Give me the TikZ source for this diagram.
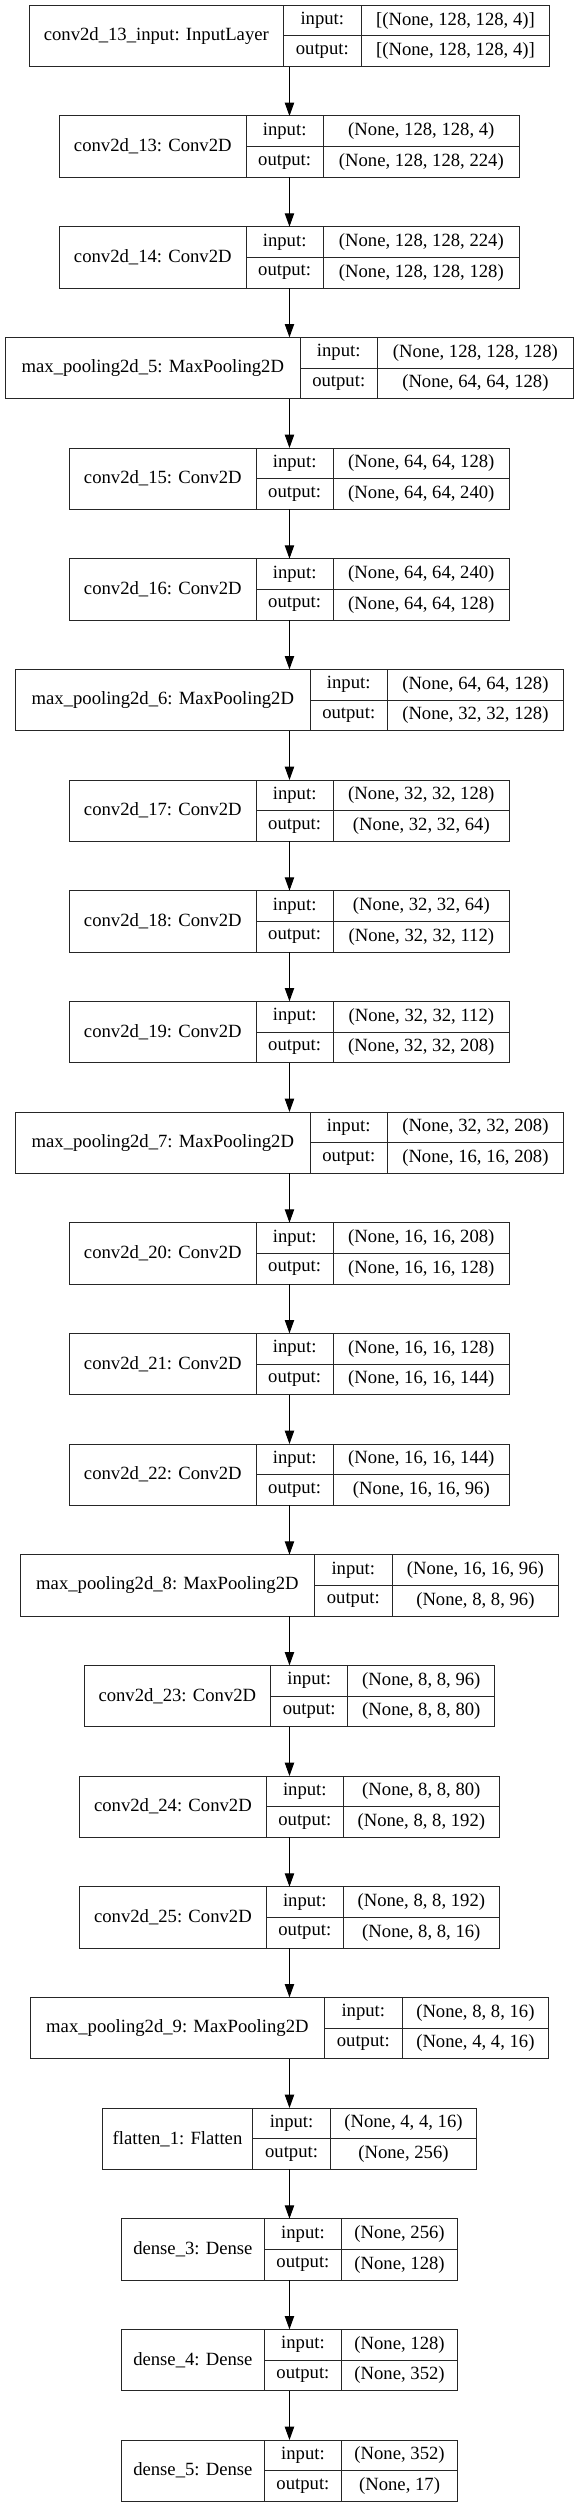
\documentclass[tikz,border=0pt]{standalone}
\usepackage{fontspec}
\setmainfont{Liberation Serif}
\usepackage{tikz}
\usetikzlibrary{arrows.meta, positioning}
\tikzset{
    layerbox/.style={rectangle, minimum height=46pt, inner sep=0pt, outer sep=0pt},
    namecell/.style={rectangle, draw=black!85, line width=0.75pt, minimum height=46pt,
                     inner sep=0pt, outer sep=0pt, font=\fontsize{14}{16}\selectfont},
    iocell/.style={rectangle, draw=black!85, line width=0.75pt, minimum width=58pt,
                   minimum height=23pt, inner sep=0pt, outer sep=0pt,
                   font=\fontsize{14}{16}\selectfont},
    shapecell/.style={rectangle, draw=black!85, line width=0.75pt, minimum height=23pt,
                      inner sep=0pt, outer sep=0pt, font=\fontsize{14}{16}\selectfont},
    arr/.style={line width=0.75pt, -{Triangle[length=10pt, width=7pt]}},
}
% #1 node, #2 name width, #3 shape width, #4 layer, #5 input, #6 output, #7 placement
\newcommand{\kerasbox}[7]{%
    \node[layerbox, minimum width=#2+58pt+#3, #7] (#1) {};
    \node[namecell, minimum width=#2, anchor=north west] (#1-name) at (#1.north west) {#4};
    \node[iocell, anchor=north west] (#1-in) at (#1-name.north east) {input:};
    \node[iocell, anchor=north west] (#1-out) at (#1-in.south west) {output:};
    \node[shapecell, minimum width=#3, anchor=north west] (#1-ishape) at (#1-in.north east) {#5};
    \node[shapecell, minimum width=#3, anchor=north west] (#1-oshape) at (#1-out.north east) {#6};
}

\begin{document}
\begin{tikzpicture}[node distance=37pt]
    \useasboundingbox (0,0) rectangle (434.25pt,-1881pt);

    \kerasbox{input}{191pt}{141.7pt}{conv2d\_13\_input: InputLayer}{[(None, 128, 128, 4)]}{[(None, 128, 128, 4)]}{anchor=north, at={(217.1pt,-4pt)}}
    \kerasbox{conv13}{139.8pt}{147pt}{conv2d\_13: Conv2D}{(None, 128, 128, 4)}{(None, 128, 128, 224)}{below=of input}
    \kerasbox{conv14}{139.8pt}{147pt}{conv2d\_14: Conv2D}{(None, 128, 128, 224)}{(None, 128, 128, 128)}{below=of conv13}
    \kerasbox{pool5}{220.9pt}{147pt}{max\_pooling2d\_5: MaxPooling2D}{(None, 128, 128, 128)}{(None, 64, 64, 128)}{below=of conv14}
    \kerasbox{conv15}{139.8pt}{132pt}{conv2d\_15: Conv2D}{(None, 64, 64, 128)}{(None, 64, 64, 240)}{below=of pool5}
    \kerasbox{conv16}{139.8pt}{132pt}{conv2d\_16: Conv2D}{(None, 64, 64, 240)}{(None, 64, 64, 128)}{below=of conv15}
    \kerasbox{pool6}{220.9pt}{132pt}{max\_pooling2d\_6: MaxPooling2D}{(None, 64, 64, 128)}{(None, 32, 32, 128)}{below=of conv16}
    \kerasbox{conv17}{139.8pt}{132pt}{conv2d\_17: Conv2D}{(None, 32, 32, 128)}{(None, 32, 32, 64)}{below=of pool6}
    \kerasbox{conv18}{139.8pt}{132pt}{conv2d\_18: Conv2D}{(None, 32, 32, 64)}{(None, 32, 32, 112)}{below=of conv17}
    \kerasbox{conv19}{139.8pt}{132pt}{conv2d\_19: Conv2D}{(None, 32, 32, 112)}{(None, 32, 32, 208)}{below=of conv18}
    \kerasbox{pool7}{220.9pt}{132pt}{max\_pooling2d\_7: MaxPooling2D}{(None, 32, 32, 208)}{(None, 16, 16, 208)}{below=of conv19}
    \kerasbox{conv20}{139.8pt}{132pt}{conv2d\_20: Conv2D}{(None, 16, 16, 208)}{(None, 16, 16, 128)}{below=of pool7}
    \kerasbox{conv21}{139.8pt}{132pt}{conv2d\_21: Conv2D}{(None, 16, 16, 128)}{(None, 16, 16, 144)}{below=of conv20}
    \kerasbox{conv22}{139.8pt}{132pt}{conv2d\_22: Conv2D}{(None, 16, 16, 144)}{(None, 16, 16, 96)}{below=of conv21}
    \kerasbox{pool8}{220.9pt}{125.1pt}{max\_pooling2d\_8: MaxPooling2D}{(None, 16, 16, 96)}{(None, 8, 8, 96)}{below=of conv22}
    \kerasbox{conv23}{139.8pt}{110.2pt}{conv2d\_23: Conv2D}{(None, 8, 8, 96)}{(None, 8, 8, 80)}{below=of pool8}
    \kerasbox{conv24}{139.8pt}{116.8pt}{conv2d\_24: Conv2D}{(None, 8, 8, 80)}{(None, 8, 8, 192)}{below=of conv23}
    \kerasbox{conv25}{139.8pt}{116.8pt}{conv2d\_25: Conv2D}{(None, 8, 8, 192)}{(None, 8, 8, 16)}{below=of conv24}
    \kerasbox{pool9}{220.9pt}{110.1pt}{max\_pooling2d\_9: MaxPooling2D}{(None, 8, 8, 16)}{(None, 4, 4, 16)}{below=of conv25}
    \kerasbox{flatten}{113pt}{109.9pt}{flatten\_1: Flatten}{(None, 4, 4, 16)}{(None, 256)}{below=of pool9}
    \kerasbox{dense3}{107.1pt}{86.9pt}{dense\_3: Dense}{(None, 256)}{(None, 128)}{below=of flatten}
    \kerasbox{dense4}{107.1pt}{86.9pt}{dense\_4: Dense}{(None, 128)}{(None, 352)}{below=of dense3}
    \kerasbox{dense5}{107.1pt}{86.9pt}{dense\_5: Dense}{(None, 352)}{(None, 17)}{below=of dense4}

    \draw[arr] (input) -- (conv13);
    \draw[arr] (conv13) -- (conv14);
    \draw[arr] (conv14) -- (pool5);
    \draw[arr] (pool5) -- (conv15);
    \draw[arr] (conv15) -- (conv16);
    \draw[arr] (conv16) -- (pool6);
    \draw[arr] (pool6) -- (conv17);
    \draw[arr] (conv17) -- (conv18);
    \draw[arr] (conv18) -- (conv19);
    \draw[arr] (conv19) -- (pool7);
    \draw[arr] (pool7) -- (conv20);
    \draw[arr] (conv20) -- (conv21);
    \draw[arr] (conv21) -- (conv22);
    \draw[arr] (conv22) -- (pool8);
    \draw[arr] (pool8) -- (conv23);
    \draw[arr] (conv23) -- (conv24);
    \draw[arr] (conv24) -- (conv25);
    \draw[arr] (conv25) -- (pool9);
    \draw[arr] (pool9) -- (flatten);
    \draw[arr] (flatten) -- (dense3);
    \draw[arr] (dense3) -- (dense4);
    \draw[arr] (dense4) -- (dense5);
\end{tikzpicture}
\end{document}
